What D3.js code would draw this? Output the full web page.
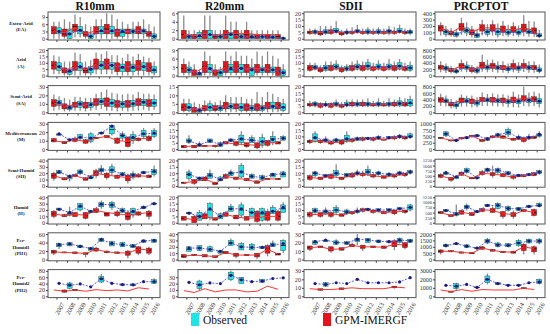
<!DOCTYPE html>
<html><head><meta charset="utf-8">
<script src="https://cdn.jsdelivr.net/npm/d3@7"></script>
<style>body{margin:0;background:#fff}svg{display:block}text{font-family:"Liberation Serif","Times New Roman",serif}</style>
</head><body><svg id="c" width="550" height="334"></svg>
<script>
const years=[2007,2008,2009,2010,2011,2012,2013,2014,2015,2016];
const indices=["R10mm","R20mm","SDII","PRCPTOT"];
const regions=[["Extra-Arid","(EA)"],["Arid","(A)"],["Semi-Arid","(SA)"],["Mediterranean","(M)"],["Semi-Humid","(SH)"],["Humid","(H)"],["Per-","Humid1","(PH1)"],["Per-","Humid2","(PH2)"]];
const seriesNames=["Observed","GPM-IMERGF"];

// boxes: [lo,q1,median,q3,hi] per year, per region row
const R10mm_gpm=[
[[0,2,3.5,5,7],[0,1,2,4,8],[0.5,3,5,6,10],[0,1,2,3,6],[0,2,3,5,8],[0,2,4,6,10.5],[0,1,3,4,8],[0,2,3,4,6],[0,2,3,5,7],[0,1,2,3,6]],
[[1,5,8,11,16],[0,2,4,6,11],[0,4,7,11,18],[0,2,4,6,11],[1,5,9,13,18],[1,5,9,13,19],[0,3,7,10,16],[0,3,7,11,17],[0,4,8,12,17],[0,3,6,10,14]],
[[2,7,11,15,21],[1,4,7,10,17],[2,6,9,12,18],[1,5,8,12,17],[3,8,12,16,22],[2,7,12,17,27],[1,6,10,14,22],[1,6,10,14,22],[2,8,12,16,24],[2,7,11,15,22]],
[[8,8.5,10,12.5,13],[6,6.5,7.5,9,9.5],[8,9,11,13,15],[6,7,9,11,12],[12,12.5,13,14,14.5],[13,13.5,15,16,16.5],[6,7,10,13,14],[2,3,8,14,15],[9,10,12,13,14],[9,10,13,15,17]],
[[8,12,16,20,22],[9,9.5,11,13,13.5],[14,15,16,18,18.5],[8,9,11,13,13.5],[12,16,20,24,27],[10,13,17,20,22],[11,12,15,17,18],[4,8,13,17,19],[13,14,16,18,19],[12,13,15,17,18]],
[[7,10,14,18,20],[9,9.5,11,13,14],[9,9.5,13,16,17],[5,7,12,16,17],[15,16,19,22,23],[10,10.5,14,16,16.5],[9,11,14,17,20],[3,5,10,16,18],[11,12,14,17,18],[5,10,14,18,20]],
[[10,15,18,22,23],[15,15.5,16.5,18,18.5],[13,14,16,18,18.5],[5,12,14,16,17],[18,20,24,27,30],[15,16,18,20,21],[14,14.5,16,18,18.5],[3,10,15,20,22],[10,15,25,30,32],[10,15,22,27,30]],
[[20,20,20,20,20],[12,13,16,20,21],[18,18,20,22,22],[17,17,17,17,17],[21,21,21,21,21],[18,18,18,18,18],[20,20,20,20,20],[17,17,17,17,17],[27,27,27,27,27],[23,23,23,23,23]]];
const R10mm_gpm_mean=[
[3.3,2.5,4.5,2,3.3,3.3,3,3,3.3,2.3],[8,4,7,4.5,9,9,7,7,8,6],[11,7,9,8,12,11.5,10,10,12,11],[10,8,11,9,13,15,10,9,12,13],
[16,11,16,11,20,17,15,13,16,15],[14,11,13,12,19,16,14,12,14,16],[18,16.5,16,14,24,18,16,15,25,22],[20,16,20,16,21,18,20,17,27,23]];
const R10mm_obs=[
[[0,2,3,4.5,7],[0,0,2,4,7],[0.5,2,3.5,5,9],[0,0,1,2,5],[0,2,3,5,8],[0,2,3,5,10],[0,1,2.5,4,7],[0,2,3,4,7],[0,2,3,4,8],[0,0,1,2,5]],
[[1,4,7,10,15],[0,1,3,5,11],[0,4,7,10,17],[0,2,5,7,12],[1,5,8,11,17],[1,5,8,10,16],[0,3,6,9,14],[0,3,6,9,15],[0,4,7,10,15],[0,2,4,7,11]],
[[3,8,11,14,19],[1,3,5,8,15],[2,6,10,13,18],[2,6,9,12,17],[4,9,13,16,24],[2,7,11,15,23],[2,6,10,13,21],[2,7,10,14,21],[3,8,12,15,22],[3,7,11,15,21]],
[[16,16.5,17,18,18.5],[10.5,11,11,12,12],[11,12,14,17,18],[7,9,13,18,20],[18,18,19,20,20],[16,18,23,28,28],[10,13,16,18,21],[6,10,13,17,21],[13,15,18,22,25],[13,15,18,22,25]],
[[19,19.5,21,24,24.5],[7,11,14,17,18],[17,19,22,25,27],[11,11.5,13,16,16.5],[18,22,25,28,33],[17,21,25,30,35],[16,16.5,18,21,22],[10,13,17,20,24],[19,19.5,21,23,24],[15,18,22,26,32]],
[[20,20,21,23,23],[10,12,14,17,25],[18,20,26,30,31],[16,16,17,19,19],[22,25,29,32,35],[20,24,28,32,34],[16,16,19,22,24],[8,12,17,22,24],[22,22,24,26,27],[29,29,30,31,31]],
[[25,30,34,38,40],[32,32,36,40,40],[28,28,31,34,34],[22,22,25,28,28],[42,42,46,50,52],[32,32,37,42,44],[30,30,35,40,42],[28,28,31,35,35],[40,40,43,46,46],[40,40,44,48,48]],
[[41,41,41,41,41],[22,25,35,42,45],[39,39,39,39,39],[30,30,30,30,30],[42,45,55,62,70],[41,41,41,41,41],[35,35,37,39,39],[33,33,36,39,39],[46,46,46,46,46],[40,40,46,52,57]]];
const R10mm_obs_mean=[
[3,2,3.5,1,3.3,3.3,3,3,3.3,1],[7,3.5,7,5,8,8,6.5,6.5,7,4.5],[11.5,6,10,9,13,11,10,10,12,11],[18,11,14,13,19,27,16,14,18,19],
[22,15,22,13,25,25,18,17,21,23],[21,16,26,18,29,28,19,18,24,30],[35,37,31,26,47,38,35,32,44,45],[41,35,39,30,55,41,37,36,46,46]];

const R20mm_gpm=[
[[0,0,1,2,5.5],[0,0,0.5,1,2],[0,0,1,2,5.5],[0,0,0.5,1,2],[0,0,1,2,5.5],[0,0,1,2,4],[0,0,1,2,4],[0,0,0.5,1,2],[0,0,0.5,1,2],[0,0,0.5,1,2]],
[[0,1,2.5,4,6],[0,0,1,2,4],[0,1,3,5,8.5],[0,0,1,2,4],[0,1,3,5,8.5],[0,1,3,5,8.5],[0,1,2.5,4,7],[0,1,2.5,4,8.5],[0,1,2.5,4,8.5],[0,0,1.5,3,6]],
[[0,1,3,5,8],[0,0,1.5,3,6],[0,1,2.5,4,7],[0,1,2,4,6],[0,2,4,6,10],[0,2,3.5,5,9],[0,1,3,5,8],[0,1,3,5,12],[0,2,4,6,12],[0,2,4,6,9]],
[[1,1,2,3,3],[1,1,2.5,3,3],[2,2,2.5,3,3],[1,2,2.5,3,3.5],[4,4,5,6,6],[2,3,4,6,6],[1,2,3,5,5],[0,1,3,5,5],[2,3,5,7,7],[4,4,5,6,6]],
[[2,2,2.5,3,3],[1,2,3.5,5,5],[4,4,5.5,7,7],[1,1,2,3,3],[6,6,7.5,9,10],[5,5,6,7,7],[4,4,5,6,6],[2,2,3,4,4],[5,5,5.5,6,6],[5,5,5.5,6,6]],
[[2,2,3.5,5,5],[0,0,2.5,5,6],[3,3,5,7,8],[2,2,3,4,4],[5,5,6.5,8,9],[3,3,4,6,6],[2,2,3.5,5,5],[0,1,4,9,10],[1,2,5,9,11],[1,2,5,9,10]],
[[3,3,5,8,8],[6,6,7,8,8],[4,4,6,8,8],[3,3,4.5,6,6],[9,9,11,13,13],[2,5,7,10,10],[6,6,7,8,8],[1,4,7,10,10],[5,10,16,22,24],[7,7,8.5,10,10]],
[[9,9,9,9,9],[6,6,6,6,6],[12,12,12,12,12],[7,7,7,7,7],[10,10,10,10,10],[10,10,10,10,10],[7,7,7,7,7],[8,8,8,8,8],[16,16,16,16,16],[11,11,11,11,11]]];
const R20mm_gpm_mean=[
[1,0.7,1.2,0.7,1.2,1.2,1.2,1,1,0.8],[2.5,1,3,1,3,3,2.5,2.5,2.5,1.5],[3,1.5,3,2.5,4,3.5,3,3,4,4],[2,2.5,2.5,2.5,5,4,3.5,3,5,5],
[2.5,3.5,5.5,2,7.5,6,5,3,5.5,5.5],[3.5,2.5,5,3,6.5,4.5,3.5,4,5,5],[5.5,7,6,4.5,11,7,7,7,16,8.5],[9,6,12,7,10,10,7,8,16,11]];
const R20mm_obs=[
[[0,0,0.5,1,2],[0,0,0.5,1.5,2],[0,0,1,2,5.5],[0,0,0.5,1,2],[0,0,1,1.5,4],[0,0,0.5,1,2],[0,0,0.3,1,2],[0,0,0.5,1,2],[0,0,0.3,1,2],[0,0,0,0.3,0.5]],
[[0,1,2,3,5],[0,0,0.5,1,2],[0,1,2.5,4,7],[0,0,1,2,3],[0,1,2,4,7],[0,1,2.5,4,7],[0,0,2,3,6],[0,1,2,3,7],[0,1,2,3,7],[0,0,1,2,4]],
[[0,1,3,5,8],[0,0,1,2,5],[0,1,3,5,7],[0,1,2.5,4,7],[0,2,3.5,5,9],[0,1,3,5,9],[0,1,2.5,4,8],[0,1,2.5,4,9],[0,2,3.5,6,11],[0,1,3,5,8]],
[[4,5,6.5,8,11],[2,2,3,4,6],[5,5,6.5,8,8],[2,2,3.5,5,6],[6,6,7,8,8],[4,5,8,11,14],[5,5,7,9,11],[1,3,6,9,12],[3,5,8,10,14],[7,7,8.5,10,11]],
[[4,6,9,11,13],[4,4,6,7,7],[6,6,8,10,13],[4,4,5,7,8],[8,8,10,11,13],[6,7,11,16,18],[6,6,7.5,9,10],[5,5,6.5,8,9],[7,7,8.5,10,10],[7,7,9,11,12]],
[[7,7,7.5,8,8],[2,2,5,8,10],[2,4,10,15,16],[3,3,5,7,8],[9,9,11,13,15],[4,6,10,14,16],[5,5,8,11,12],[1,2,7,11,12],[7,7,9,12,14],[8,8,11,14,16]],
[[13,13,16,20,20],[14,14,18,22,22],[12,12,16,20,22],[10,10,12,14,14],[22,22,26,30,33],[15,15,20,25,27],[15,15,19,24,26],[17,17,19,21,21],[20,20,23,26,30],[10,14,22,30,32]],
[[22,22,22,22,22],[10,12,18,24,26],[21,21,21,21,21],[20,20,20,20,20],[24,26,33,38,40],[20,20,26,30,30],[23,23,23,23,23],[22,22,24,27,27],[28,28,28,28,28],[29,29,29,29,29]]];
const R20mm_obs_mean=[
[0.5,0.7,1,0.5,1,0.5,0.5,0.5,0.4,0.1],[2,0.8,2.5,1,2.5,2.5,2,2,2,1],[3,1.2,3,2.5,3.5,3,2.5,2.5,3.5,3],[6.5,3.5,6.5,3.5,7,8,7,6,7.5,8.5],
[9,6,8.5,5,10,11,7.5,6.5,9,9.5],[7.5,5,11,5,11,11,8,8,9,12],[18,18,16,13,26,20,19,19,23,25],[22,18,21,20,33,26,23,24,28,29]];

const SDII_gpm=[
[[3,4,5,6,8],[2,3,4.5,6,10],[3,4,5.5,7,10],[2,3,4,5,7],[3,4,5,6,9],[3,4,5,6,8],[3,4,5,6,8],[3,4,5,6,8],[3,4,5,6,9],[3,4,5,6,8]],
[[3,4,6,8,10],[2,3,4.5,6,8],[3,4,6,8,11],[2,3,5,6,8],[3,4,6,8,11],[3,4,6,8,11],[3,4,5.5,7,10],[3,4,5.5,7,10],[3,4,6,8,11],[3,4,5.5,7,10]],
[[4,5,6,7,9],[3,4,5.5,7,8],[3,4,5.5,7,8],[3,4,5,6,8],[4,5,6.5,8,10],[4,5,6.5,8,10],[4,5,6,7,9],[4,5,6,7,9],[4,5,6.5,8,10],[4,5,6.5,8,11]],
[[4,5,6,7,8],[4,5,6,7,8],[3,4,5,6,7],[3,4,5.5,7,8],[5,6,7,8,9],[6,7,8,9,10],[6,7,8,9,10],[7,7,7.5,8,8],[7,8,9,10,11],[7,8,9,10,11]],
[[4,5,6.5,8,9],[5,5,6,7,7],[5,6,7.5,9,10],[5,5,6,7,7],[6,7,8.5,10,11],[7,8,9,10,12],[6,7,8,9,10],[6,6,7,8,8],[6,7,8,9,9],[7,8,9,10,10]],
[[4,5,6.5,8,9],[4,5,6.5,8,8],[4,5,7,8,9],[5,5,6,7,7],[6,7,8,9,9],[8,9,10,11,12],[7,8,9,10,10],[7,7,8,9,9],[6,7,8.5,10,10],[7,8,9,10,10]],
[[10,12,14,16,16],[14,14,15,16,16],[8,10,12,15,15],[11,11,12.5,14,14],[15,15,16.5,18,20],[10,13,15,17,17],[14,14,15,16,16],[13,13,14.5,16,16],[11,15,18,22,24],[12,14,17,20,20]],
[[9,9,9,9,9],[7,7,8,9,9],[8,8,8,8,8],[8,8,9,10,10],[10,10,10,10,10],[9,9,9,9,9],[9,9,9,9,9],[9,9,9,9,9],[9,10,11,12,12],[10,10,10,10,10]]];
const SDII_gpm_mean=[
[5,4.8,5.5,4.5,5.2,5,5,5,5,5],[6,5,6,5,6,6,5.5,5.5,6,5.5],[6,5.5,5.5,5,6.5,6.5,6,6,6.5,6.5],[6,6,5,5.5,7,8,8,7.5,9,9],
[6.5,6,7.5,6,8.5,9,8,7,8,9],[6.5,6.5,7,6,8,10,9,8,8.5,9],[14,15,12,12.5,16.5,15,15,14.5,18,17],[9,8,8,9,10,9,9,9,11,10]];
const SDII_obs=[
[[3,4,5,6.5,8],[3,4,5,7,10],[4,5,6.5,8,14],[3,4,5,6,8],[4,5,6,7,11],[3,4,5.5,7,9],[3,4,5.5,7,9],[3,4,6,7,10],[4,5,6,8,11],[3,4,5,6.5,8]],
[[4,5,6.5,8,10],[3,4,6,8,11],[4,5,7,9,12],[3,4,5.5,7,9],[4,5,7,9,12],[4,5,7.5,10,13],[4,5,7,9,12],[4,5,7,9,13],[4,5,7.5,10,13],[3,4,6,8,11]],
[[4,5,6.5,8,9],[4,5,6,7,9],[4,5,6.5,8,10],[4,5,6,8,10],[4,5,6.5,8,10],[4,5,6.5,8,11],[4,5,6.5,8,11],[4,5,6.5,8,11],[4,5,7,9,12],[4,5,7,10,13]],
[[5,6,9,12,14],[6,6,7,8,10],[6,6,7,8,9],[5,6,8,11,14],[7,7,8,9,10],[8,8,8.5,9,9],[8,8,9,10,11],[8,8,9,10,10],[8,9,10,11,12],[8,9,10,12,13]],
[[7,8,10,11,12],[7,7,8,9,9],[7,8,10,12,17],[7,7,8.5,10,10],[8,9,10,11,13],[8,9,11,13,16],[8,9,10,11,12],[7,8,9,10,11],[8,9,10,11,12],[9,10,11,12,13]],
[[7,8,9.5,11,12],[6,7,8.5,10,12],[7,8,10,12,14],[6,7,8.5,10,11],[7,8,9,10,12],[10,10,10.5,11,11],[9,9,10,11,11],[9,9,10,11,11],[10,10,11,12,12],[9,10,12,14,15]],
[[17,18,20,22,23],[21,21,22,23,23],[17,18,20,22,24],[18,18,19.5,21,21],[17,21,23,25,30],[20,20,23,25,25],[20,20,21.5,23,23],[20,20,21,22,22],[19,20,22,25,26],[20,20,22,24,24]],
[[15,15,15,15,15],[11,12,14,16,17],[16,16,16,16,16],[15,15,15,15,15],[20,20,20,20,20],[16,16,16,16,16],[16,16,16,16,16],[16,16,16,16,16],[17,17,17,17,17],[22,22,22,22,22]]];
const SDII_obs_mean=[
[5.5,5.5,6,5,6,5.5,5.5,6,6,5.5],[6.5,6,7,5.5,7,7.5,7,7,7.5,6],[6.5,6,6.5,6,6.5,6.5,6.5,6.5,7,7.5],[9,7,7,8,8,8.5,9,9,10,10],
[10,8,10,8.5,10,11,10,9,10,11],[9.5,9,10,8.5,9,10.5,10,10,11,12],[21,23,20,19.5,24,23,21.5,21,23,22],[15,14,16,15,20,16,16,16,17,22]];

const PRCPTOT_gpm=[
[[50,120,170,210,260],[30,60,90,120,170],[60,130,190,240,330],[20,60,100,140,200],[50,120,170,220,300],[50,120,170,220,290],[40,100,150,200,280],[40,100,140,190,260],[40,110,170,230,370],[30,80,130,170,270]],
[[100,200,260,320,450],[60,120,170,230,300],[120,220,300,380,500],[60,120,180,250,330],[120,230,320,420,650],[110,220,300,380,500],[90,180,250,320,450],[100,200,290,380,500],[110,230,300,380,520],[90,180,250,320,450]],
[[200,320,400,460,580],[120,200,260,320,430],[180,300,380,450,560],[150,270,340,420,530],[200,330,400,470,620],[200,320,400,470,600],[180,300,380,450,570],[160,300,400,480,650],[200,350,430,520,800],[200,330,410,490,650]],
[[400,420,440,460,480],[300,320,340,360,380],[380,400,430,460,480],[460,480,510,540,560],[280,300,340,380,400],[420,450,480,520,550],[400,430,480,520,560],[330,350,390,430,450],[250,300,380,450,500],[400,420,460,500,520]],
[[380,420,500,560,620],[200,280,350,420,440],[500,520,600,680,720],[330,350,380,420,440],[500,550,620,700,800],[400,500,580,650,1000],[420,450,520,600,620],[300,380,430,500,520],[430,450,500,550,570],[480,500,580,650,680]],
[[430,450,500,550,570],[280,300,350,400,420],[400,420,520,600,650],[330,350,420,500,520],[520,550,640,700,720],[480,500,600,700,800],[200,300,450,550,580],[200,300,400,500,600],[530,550,600,650,670],[300,350,500,650,700]],
[[400,550,650,750,800],[580,600,650,700,720],[480,500,550,600,620],[430,450,500,550,570],[780,800,900,1000,1050],[630,650,720,800,820],[530,550,600,650,670],[480,500,580,650,680],[400,700,1000,1200,1300],[400,600,850,1000,1100]],
[[750,750,750,750,750],[450,480,550,620,650],[800,800,800,800,800],[600,600,600,600,600],[800,800,800,800,800],[750,750,750,750,750],[750,750,750,750,750],[750,750,750,750,750],[850,880,950,1020,1050],[800,800,800,800,800]]];
const PRCPTOT_gpm_mean=[
[170,95,190,110,170,170,150,140,170,130],[260,170,300,180,300,290,250,270,300,250],[400,260,380,340,400,400,380,400,430,410],[440,340,430,510,340,480,460,390,380,450],
[500,350,600,380,620,580,520,430,500,580],[500,350,520,420,640,600,450,400,600,500],[650,650,560,500,900,720,600,580,1000,850],[750,550,800,600,800,750,750,750,950,800]];
const PRCPTOT_obs=[
[[30,70,110,140,200],[20,40,70,100,140],[40,90,130,170,260],[10,20,50,80,140],[30,70,110,150,230],[20,60,110,160,240],[30,70,100,140,220],[30,70,100,140,210],[30,80,110,150,280],[10,30,50,80,140]],
[[80,170,230,290,380],[50,90,130,180,260],[100,200,260,330,450],[50,100,160,220,290],[100,200,260,330,500],[90,190,250,320,450],[70,150,210,280,380],[80,170,240,300,420],[90,190,250,320,450],[60,120,170,240,350]],
[[180,300,360,420,530],[100,170,230,300,380],[180,300,360,430,520],[150,230,300,380,470],[200,330,390,450,580],[180,300,370,430,560],[160,280,340,400,530],[150,270,350,420,560],[180,300,380,450,620],[150,270,350,430,600]],
[[480,520,600,680,700],[300,320,340,360,380],[400,420,450,480,500],[480,500,530,560,580],[320,350,400,450,480],[450,500,550,600,640],[480,560,660,780,850],[380,400,450,500,580],[350,400,450,500,600],[450,500,550,600,700]],
[[530,550,620,680,700],[330,350,420,480,500],[600,650,750,850,900],[370,380,400,420,430],[650,700,780,850,900],[600,650,750,850,900],[520,550,620,700,750],[430,450,500,550,570],[480,500,550,600,620],[550,600,680,750,800]],
[[530,550,600,650,670],[300,350,420,500,900],[600,700,780,850,950],[480,500,550,600,620],[780,800,850,900,920],[650,700,850,950,1000],[550,600,700,800,850],[580,600,680,750,770],[730,750,800,850,870],[750,800,850,950,1000]],
[[950,1000,1100,1200,1250],[1150,1200,1250,1300,1350],[900,950,1050,1150,1200],[800,850,900,950,1000],[1200,1300,1450,1600,1700],[950,1000,1150,1300,1350],[950,1000,1120,1250,1300],[1000,1100,1300,1500,1600],[1250,1300,1450,1600,1650],[1200,1300,1450,1600,1700]],
[[1300,1300,1300,1300,1300],[700,900,1200,1500,1600],[1400,1400,1400,1400,1400],[950,1000,1050,1100,1150],[1400,1600,2000,2400,2700],[1350,1400,1500,1600,1650],[1200,1250,1300,1350,1400],[1200,1250,1300,1350,1400],[1600,1600,1600,1600,1600],[1400,1500,1700,2000,2100]]];
const PRCPTOT_obs_mean=[
[110,70,130,55,110,110,100,100,110,50],[230,140,260,160,260,250,210,240,250,170],[360,230,360,300,390,370,340,350,380,350],[600,340,450,530,400,560,660,450,460,580],
[650,450,750,400,800,780,620,520,560,680],[600,430,780,550,850,850,700,680,800,850],[1100,1250,1050,900,1450,1150,1120,1300,1450,1450],[1300,1200,1400,1050,2000,1500,1300,1300,1600,1700]];

const R10mm_ticks=[[0,3,6,9],[0,5,10,15,20],[0,10,20,30],[0,10,20,30],[0,10,20,30,40],[0,10,20,30,40],[0,20,40,60],[0,20,40,60,80]];
const R20mm_ticks=[[0,2,4,6],[0,3,6,9],[0,5,10,15],[0,5,10,15,20],[0,5,10,15,20],[0,5,10,15,20],[0,10,20,30,40],[0,10,20,30]];
const SDII_ticks=[[0,5,10,15,20],[0,5,10,15,20],[0,5,10,15,20],[0,5,10,15,20],[0,5,10,15,20],[0,5,10,15,20],[0,10,20,30],[0,10,20,30]];
const PRCPTOT_ticks=[[0,100,200,300,400],[0,200,400,600,800],[0,200,400,600,800],[0,250,500,750,1000],[0,250,500,750,1000,1250],[0,250,500,750,1000,1250],[0,500,1000,1500,2000],[0,1000,2000,3000]];

const panels=[
 {gpm:R10mm_gpm,gm:R10mm_gpm_mean,obs:R10mm_obs,om:R10mm_obs_mean,ticks:R10mm_ticks},
 {gpm:R20mm_gpm,gm:R20mm_gpm_mean,obs:R20mm_obs,om:R20mm_obs_mean,ticks:R20mm_ticks},
 {gpm:SDII_gpm,gm:SDII_gpm_mean,obs:SDII_obs,om:SDII_obs_mean,ticks:SDII_ticks},
 {gpm:PRCPTOT_gpm,gm:PRCPTOT_gpm_mean,obs:PRCPTOT_obs,om:PRCPTOT_obs_mean,ticks:PRCPTOT_ticks}];

const COL_OBS="#22e3e3", COL_GPM="#e3141b";
const svg=d3.select("#c");
const colX=[[48,160],[178,289],[304,416],[435,545]];
const top0=12, pitch=36.8, ph=28;
const bw=5, off=2.6;

// row labels
regions.forEach((lab,r)=>{
  const cy=top0+r*pitch+ph/2;
  const t=svg.append("text").attr("text-anchor","middle").attr("font-size",4.9).attr("font-weight","bold").attr("fill","#222");
  const n=lab.length;
  lab.forEach((s,k)=>t.append("tspan").attr("x",21).attr("y",cy+(k-(n-1)/2)*6.3+1.8).text(s));
});

panels.forEach((p,c)=>{
  const [x0,x1]=colX[c];
  svg.append("text").attr("x",(x0+x1)/2-9).attr("y",10).attr("text-anchor","middle")
    .attr("font-size",11.5).attr("font-weight","bold").attr("fill","#111").text(indices[c]);
  const x=d3.scalePoint().domain(years).range([x0,x1]).padding(0.8);
  for(let r=0;r<8;r++){
    const top=top0+r*pitch, bot=top+ph;
    const maxV=d3.max([d3.max(p.gpm[r],d=>d[4]),d3.max(p.obs[r],d=>d[4]),d3.max(p.gm[r]),d3.max(p.om[r]),d3.max(p.ticks[r])]);
    const pad=maxV*0.05;
    const y=d3.scaleLinear().domain([-pad,maxV+pad]).range([bot,top]);
    const g=svg.append("g");
    g.append("rect").attr("x",x0).attr("y",top).attr("width",x1-x0).attr("height",ph).attr("fill","#fff");
    const sets=[[p.gpm[r],-off,COL_GPM],[p.obs[r],off,COL_OBS]];
    sets.forEach(([data,o])=>{
      g.selectAll(null).data(data.map((d,i)=>({d,i})).filter(e=>e.d[4]>e.d[0])).join("line")
        .attr("x1",e=>x(years[e.i])+o).attr("x2",e=>x(years[e.i])+o)
        .attr("y1",e=>y(e.d[0])).attr("y2",e=>y(e.d[4]))
        .attr("stroke","#8c8c8c").attr("stroke-width",1.3);
    });
    sets.forEach(([data,o,col])=>{
      data.forEach((d,i)=>{
        if(d[3]<=d[1]) return;
        const cx=x(years[i])+o;
        g.append("rect").attr("x",cx-bw/2).attr("y",y(d[3])).attr("width",bw).attr("height",y(d[1])-y(d[3]))
          .attr("fill",col).attr("stroke","#333").attr("stroke-width",0.4);
        g.append("line").attr("x1",cx-bw/2).attr("x2",cx+bw/2).attr("y1",y(d[2])).attr("y2",y(d[2]))
          .attr("stroke","#111").attr("stroke-width",0.8);
      });
    });
    // mean lines
    g.append("path").datum(p.gm[r]).attr("fill","none").attr("stroke","#ff3535").attr("stroke-width",1)
      .attr("d",d3.line().x((v,i)=>x(years[i])-off).y(v=>y(v)));
    g.append("path").datum(p.om[r]).attr("fill","none").attr("stroke","#5a5aff").attr("stroke-width",1)
      .attr("stroke-dasharray","2,1.4").attr("d",d3.line().x((v,i)=>x(years[i])+off).y(v=>y(v)));
    g.selectAll(null).data(p.om[r]).join("circle").attr("cx",(v,i)=>x(years[i])+off).attr("cy",v=>y(v))
      .attr("r",1.6).attr("fill","#1c1c78");
    g.append("rect").attr("x",x0).attr("y",top).attr("width",x1-x0).attr("height",ph)
      .attr("fill","none").attr("stroke","#555").attr("stroke-width",1);
    // axes
    const dense=p.ticks[r].length>5;
    const ya=g.append("g").attr("transform",`translate(${x0},0)`)
      .call(d3.axisLeft(y).tickValues(p.ticks[r]).tickSize(2).tickPadding(1).tickFormat(d3.format("d")));
    ya.select(".domain").remove();
    ya.selectAll("text").attr("font-size",dense?4.6:6.2).attr("fill","#333").attr("font-family","Liberation Serif");
    ya.selectAll("line").attr("stroke","#444");
    const xa=g.append("g").attr("transform",`translate(0,${bot})`)
      .call(d3.axisBottom(x).tickSize(2).tickFormat(r===7?d3.format("d"):()=>""));
    xa.select(".domain").remove();
    xa.selectAll("line").attr("stroke","#444");
    if(r===7){
      xa.selectAll("text").attr("font-size",6.5).attr("fill","#333").attr("font-family","Liberation Serif")
        .attr("text-anchor","end").attr("dy","0.3em").attr("transform","translate(2,3) rotate(-60)");
    }
  }
});

// legend
const leg=[{name:seriesNames[0],col:COL_OBS,x:191},{name:seriesNames[1],col:COL_GPM,x:323}];
leg.forEach(l=>{
  svg.append("rect").attr("x",l.x).attr("y",313).attr("width",8).attr("height",13).attr("fill",l.col);
  svg.append("text").attr("x",l.x+12).attr("y",324).attr("font-size",11.5).attr("fill","#111").text(l.name);
});
</script></body></html>
